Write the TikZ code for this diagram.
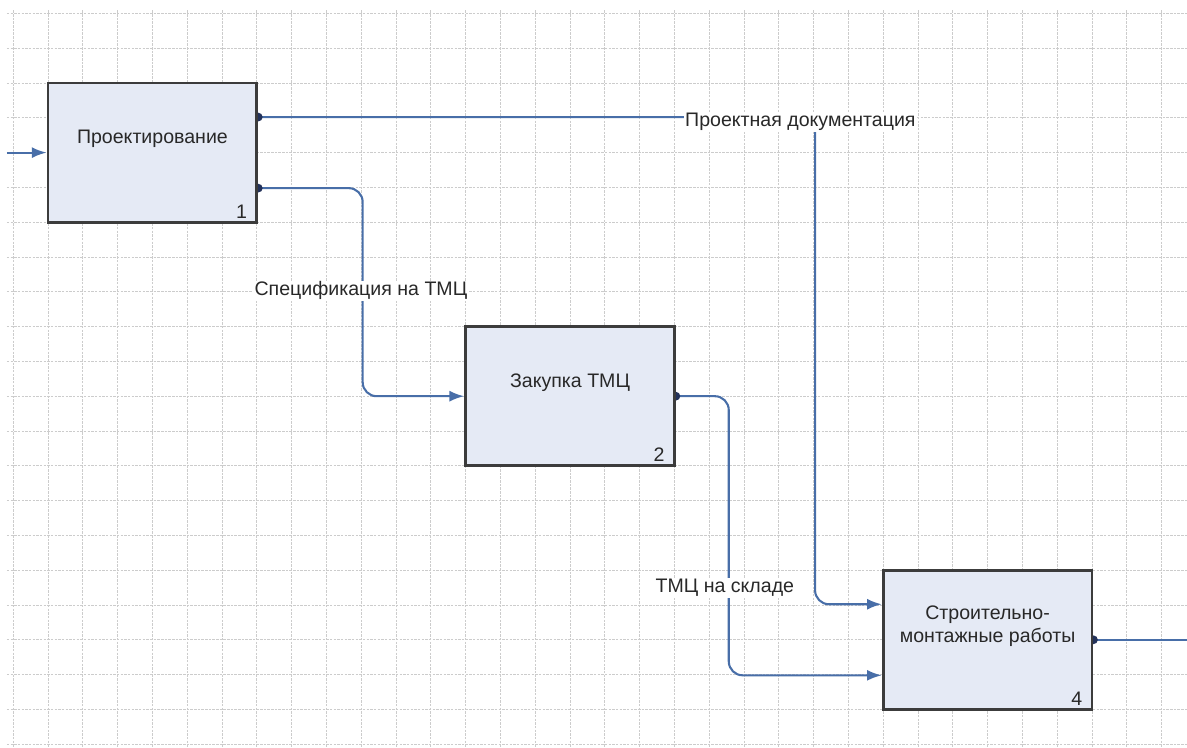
\documentclass[tikz,border=0pt]{standalone}
\usepackage{fontspec}
\setmainfont{Liberation Sans}
\usetikzlibrary{arrows.meta,positioning,calc}
\definecolor{idefblue}{RGB}{72,110,168}
\definecolor{idefdot}{RGB}{35,50,90}
\definecolor{boxfill}{RGB}{229,234,245}
\definecolor{boxline}{RGB}{60,60,60}
\definecolor{txtgray}{RGB}{40,40,40}
\pgfdeclarelayer{grid}
\pgfdeclarelayer{wires}
\pgfsetlayers{grid,wires,main}

\begin{document}
\begin{tikzpicture}[every node/.style={font=\fontsize{16}{19}\selectfont,text=txtgray},
        func/.style={draw=boxline,line width=2.4pt,fill=boxfill,minimum width=6cm,
                     minimum height=4cm,inner sep=0pt},
        flow/.style={draw=idefblue,line width=1.7pt,rounded corners=0.4cm},
        tail/.style={{Circle[length=7pt,color=idefdot]}-,shorten <=-3.5pt},
        tailarr/.style={{Circle[length=7pt,color=idefdot]}-{Latex[length=12pt,width=9pt]},shorten <=-3.5pt},
        gridline/.style={draw=gray!40,line width=0.6pt,dash pattern=on 2pt off 1pt},
        lbl/.style={fill=white,inner sep=1pt}]
      \useasboundingbox (0,0) rectangle (34.11,-21.47);
      % grid
      \begin{pgfonlayer}{grid}
        \foreach \x in {0,...,33}
          \draw[gridline] (\x+0.38,-0.3) -- (\x+0.38,-21.47);
        \foreach \y in {0,...,21}
          \draw[gridline] (0.2,-\y-0.385) -- (34.11,-\y-0.385);
      \end{pgfonlayer}
      % functions
      \node[func] (proj) at (4.38,-4.385)   {};
      \node[func] (buy)  at (16.38,-11.385) {};
      \node[func] (smr)  at (28.38,-18.385) {};
      \node at ($(proj.north)+(0,-1.65)$) {Проектирование};
      \node at ($(buy.north)+(0,-1.65)$)  {Закупка ТМЦ};
      \node[align=center] at ($(smr.north)+(0,-1.65)$) {Строительно-\\монтажные работы};
      \node at ($(proj.south east)+(-0.48,0.35)$) {1};
      \node at ($(buy.south east)+(-0.48,0.35)$)  {2};
      \node at ($(smr.south east)+(-0.48,0.35)$)  {4};
      \coordinate (inp)  at (0.2,-4.385);
      \coordinate (outp) at (34.11,-18.385);
      % arrows
      \begin{pgfonlayer}{wires}
        \draw[flow,-{Latex[length=12pt,width=9pt]}] (inp) -- (proj.west);
        \draw[flow,tailarr] ($(proj.north east)!.25!(proj.south east)$) -- ++(16,0)
              |- ($(smr.north west)!.25!(smr.south west)$);
        \draw[flow,tailarr] ($(proj.north east)!.75!(proj.south east)$) -- ++(3,0) |- (buy.west);
        \draw[flow,tailarr] (buy.east) -- ++(1.52,0)
              |- ($(smr.north west)!.75!(smr.south west)$);
        \draw[flow,tail] (smr.east) -- (outp);
      \end{pgfonlayer}
      % labels
      \node[lbl] (docs) at (23.0,-3.5)   {Проектная документация};
      \node[lbl] (spec) at (10.37,-8.36) {Спецификация на ТМЦ};
      \node[lbl] (stock) at (20.83,-16.9) {ТМЦ на складе};
    \end{tikzpicture}
\end{document}
